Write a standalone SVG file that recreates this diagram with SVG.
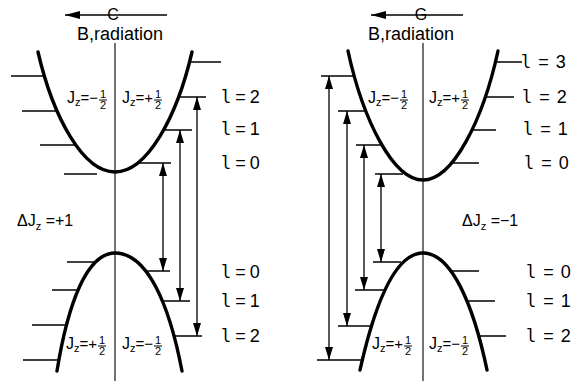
<svg xmlns="http://www.w3.org/2000/svg" width="572" height="381" viewBox="0 0 572 381">
<defs>
<marker id="ah" viewBox="0 0 13 8" refX="13" refY="4" markerWidth="13" markerHeight="8" markerUnits="userSpaceOnUse" orient="auto-start-reverse"><path d="M0,0 L13,4 L0,8 z" fill="#000"/></marker>
<marker id="ahT" viewBox="0 0 15 8" refX="15" refY="4" markerWidth="15" markerHeight="8" markerUnits="userSpaceOnUse" orient="auto-start-reverse"><path d="M0,0 L15,4 L0,8 z" fill="#000"/></marker>
<style>
text{font-family:"Liberation Sans",Arial,sans-serif;fill:#000}
.curve{fill:none;stroke:#000;stroke-width:3.4;stroke-linecap:round}
.axis{stroke:#000;stroke-width:1.1;fill:none}
.lv{stroke:#000;stroke-width:1.5;fill:none}
.arr{stroke:#000;stroke-width:1.3;fill:none;marker-start:url(#ah);marker-end:url(#ah)}
.top{stroke:#000;stroke-width:1.5;fill:none;marker-start:url(#ahT)}
.lab{font-size:18px;word-spacing:-1px}
.labr{font-size:18px;word-spacing:2px}
.ell{font-family:"DejaVu Sans Mono",monospace;font-size:17px}
.hd{font-size:18px}
.jz{font-size:16px}
.jzs{font-size:15px}
.sub{font-size:11px}
.fr{font-size:11px;text-anchor:middle}
.bar{stroke:#000;stroke-width:1}
.dj{font-size:16px}
.cg{font-size:16px;text-anchor:middle}
</style>
</defs>
<rect width="572" height="381" fill="#fff"/>

<!-- LEFT DIAGRAM -->
<g id="left-header">
<line class="top" x1="65" y1="15" x2="167" y2="15"/>
<text class="cg" x="113" y="19.5">C</text>
<text class="hd" x="77" y="40">B,radiation</text>
</g>
<g id="left-axis"><line class="axis" x1="115" y1="43" x2="115" y2="381"/></g>
<g id="left-upper-band">
<path class="curve" d="M38,52 C53,117 83,172 115,172 C147,172 177,117 192,52"/>
<line class="lv" x1="11" y1="76" x2="45" y2="76"/>
<line class="lv" x1="22" y1="111" x2="58" y2="111"/>
<line class="lv" x1="40" y1="145" x2="76" y2="145"/>
<line class="lv" x1="64" y1="174" x2="97" y2="174"/>
<line class="lv" x1="139" y1="163" x2="171" y2="163"/>
<line class="lv" x1="163" y1="130" x2="192" y2="130"/>
<line class="lv" x1="178" y1="97" x2="206" y2="97"/>
<line class="lv" x1="188" y1="62" x2="221" y2="62"/>
</g>
<g id="left-lower-band">
<path class="curve" d="M57,371 C68,303 87,253 115,253 C147,253 169,303 182,371"/>
<line class="lv" x1="67" y1="262" x2="96" y2="262"/>
<line class="lv" x1="52" y1="290" x2="78" y2="290"/>
<line class="lv" x1="32" y1="325" x2="66" y2="325"/>
<line class="lv" x1="23" y1="360" x2="59" y2="360"/>
<line class="lv" x1="145" y1="271" x2="170" y2="271"/>
<line class="lv" x1="163" y1="301" x2="190" y2="301"/>
<line class="lv" x1="174" y1="336" x2="202" y2="336"/>
</g>
<g id="left-jz-labels">
<text class="jz" x="67" y="103">J<tspan class="sub" dy="3">z</tspan><tspan class="jzs" dy="-3">=−</tspan></text>
<text class="fr" x="103" y="98">1</text><line class="bar" x1="99" y1="100" x2="107" y2="100"/><text class="fr" x="103" y="109">2</text>
<text class="jz" x="122" y="103">J<tspan class="sub" dy="3">z</tspan><tspan class="jzs" dy="-3">=+</tspan></text>
<text class="fr" x="158" y="98">1</text><line class="bar" x1="154" y1="100" x2="162" y2="100"/><text class="fr" x="158" y="109">2</text>
<text class="jz" x="66" y="349">J<tspan class="sub" dy="3">z</tspan><tspan class="jzs" dy="-3">=+</tspan></text>
<text class="fr" x="102" y="344">1</text><line class="bar" x1="98" y1="346" x2="106" y2="346"/><text class="fr" x="102" y="355">2</text>
<text class="jz" x="122" y="349">J<tspan class="sub" dy="3">z</tspan><tspan class="jzs" dy="-3">=−</tspan></text>
<text class="fr" x="158" y="344">1</text><line class="bar" x1="154" y1="346" x2="162" y2="346"/><text class="fr" x="158" y="355">2</text>
</g>
<g id="left-delta"><text class="dj" x="17" y="226">ΔJ<tspan class="sub" dy="4">z</tspan><tspan dy="-4"> =+1</tspan></text></g>
<g id="left-l-labels">
<text class="lab" x="221" y="103"><tspan class="ell">l</tspan> = 2</text>
<text class="lab" x="221" y="135"><tspan class="ell">l</tspan> = 1</text>
<text class="lab" x="221" y="169"><tspan class="ell">l</tspan> = 0</text>
<text class="lab" x="221" y="278"><tspan class="ell">l</tspan> = 0</text>
<text class="lab" x="221" y="307"><tspan class="ell">l</tspan> = 1</text>
<text class="lab" x="221" y="342"><tspan class="ell">l</tspan> = 2</text>
</g>

<!-- RIGHT DIAGRAM -->
<g id="right-header">
<line class="top" x1="371" y1="15" x2="463" y2="15"/>
<text class="cg" x="421" y="19.5">G</text>
<text class="hd" x="368" y="40">B,radiation</text>
</g>
<g id="right-axis"><line class="axis" x1="423" y1="43" x2="423" y2="381"/></g>
<g id="right-upper-band">
<path class="curve" d="M348,51 C363,120 393,180 423,180 C453,180 483,120 498,51"/>
<line class="lv" x1="321" y1="76" x2="354" y2="76"/>
<line class="lv" x1="338" y1="111" x2="366" y2="111"/>
<line class="lv" x1="356" y1="145" x2="382" y2="145"/>
<line class="lv" x1="375" y1="174" x2="403" y2="174"/>
<line class="lv" x1="452" y1="163" x2="479" y2="163"/>
<line class="lv" x1="473" y1="130" x2="496" y2="130"/>
<line class="lv" x1="486" y1="97" x2="514" y2="97"/>
<line class="lv" x1="495" y1="62" x2="522" y2="62"/>
</g>
<g id="right-lower-band">
<path class="curve" d="M360,370 C375,303 395,253 423,253 C451,253 473,303 487,370"/>
<line class="lv" x1="373" y1="262" x2="401" y2="262"/>
<line class="lv" x1="355" y1="290" x2="384" y2="290"/>
<line class="lv" x1="338" y1="326" x2="370" y2="326"/>
<line class="lv" x1="317" y1="360" x2="362" y2="360"/>
<line class="lv" x1="451" y1="271" x2="479" y2="271"/>
<line class="lv" x1="467" y1="301" x2="495" y2="301"/>
<line class="lv" x1="479" y1="336" x2="506" y2="336"/>
</g>
<g id="right-jz-labels">
<text class="jz" x="368" y="103">J<tspan class="sub" dy="3">z</tspan><tspan class="jzs" dy="-3">=−</tspan></text>
<text class="fr" x="404" y="98">1</text><line class="bar" x1="400" y1="100" x2="408" y2="100"/><text class="fr" x="404" y="109">2</text>
<text class="jz" x="429" y="103">J<tspan class="sub" dy="3">z</tspan><tspan class="jzs" dy="-3">=+</tspan></text>
<text class="fr" x="465" y="98">1</text><line class="bar" x1="461" y1="100" x2="469" y2="100"/><text class="fr" x="465" y="109">2</text>
<text class="jz" x="372" y="349">J<tspan class="sub" dy="3">z</tspan><tspan class="jzs" dy="-3">=+</tspan></text>
<text class="fr" x="408" y="344">1</text><line class="bar" x1="404" y1="346" x2="412" y2="346"/><text class="fr" x="408" y="355">2</text>
<text class="jz" x="429" y="349">J<tspan class="sub" dy="3">z</tspan><tspan class="jzs" dy="-3">=−</tspan></text>
<text class="fr" x="465" y="344">1</text><line class="bar" x1="461" y1="346" x2="469" y2="346"/><text class="fr" x="465" y="355">2</text>
</g>
<g id="right-delta"><text class="dj" x="462" y="226">ΔJ<tspan class="sub" dy="4">z</tspan><tspan dy="-4"> =−1</tspan></text></g>
<g id="right-l-labels">
<text class="labr" x="521" y="68"><tspan class="ell">l</tspan> = 3</text>
<text class="labr" x="522" y="103"><tspan class="ell">l</tspan> = 2</text>
<text class="labr" x="523" y="135"><tspan class="ell">l</tspan> = 1</text>
<text class="labr" x="524" y="169"><tspan class="ell">l</tspan> = 0</text>
<text class="labr" x="526" y="278"><tspan class="ell">l</tspan> = 0</text>
<text class="labr" x="526" y="307"><tspan class="ell">l</tspan> = 1</text>
<text class="labr" x="526" y="342"><tspan class="ell">l</tspan> = 2</text>
</g>

<!-- CONNECTORS: transitions -->
<g id="connectors">
<line class="arr" x1="163" y1="163" x2="163" y2="271"/>
<line class="arr" x1="180" y1="130" x2="180" y2="301"/>
<line class="arr" x1="197" y1="97" x2="197" y2="336"/>
<line class="arr" x1="329" y1="76" x2="329" y2="360"/>
<line class="arr" x1="347" y1="111" x2="347" y2="326"/>
<line class="arr" x1="364" y1="145" x2="364" y2="290"/>
<line class="arr" x1="381" y1="174" x2="381" y2="262"/>
</g>
</svg>
